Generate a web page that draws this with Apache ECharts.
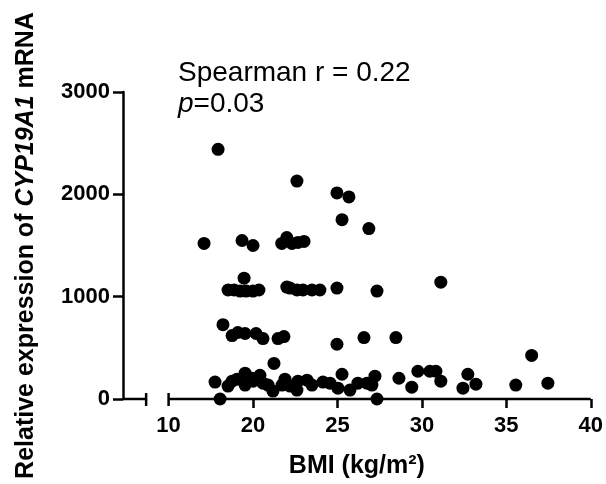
<!DOCTYPE html>
<html>
<head>
<meta charset="utf-8">
<script src="https://cdn.jsdelivr.net/npm/echarts@6/dist/echarts.min.js"></script>
<style>html,body{margin:0;padding:0;background:#fff}#c{width:606px;height:484px}</style>
</head>
<body>
<div id="c"></div>
<script>
// BMI (x) values
const bmi = [
  17.93, 22.60, 24.97, 25.68, 25.27, 26.86,
  17.10, 19.35, 20.00, 21.70, 22.00, 22.30, 22.66, 23.02,
  19.47, 18.52, 18.88, 19.23, 19.59, 20.00, 20.35, 22.00, 22.19, 22.60, 22.96, 23.49, 23.96, 24.97, 27.34, 31.12,
  18.22, 18.76, 19.10, 19.53, 20.18, 20.59, 21.48, 21.83, 24.97, 26.57, 28.46, 36.50,
  17.75, 18.05, 18.52, 18.76, 19.05, 19.53, 19.53, 19.94, 20.41, 20.59, 20.00, 20.89, 21.24, 21.18, 21.72, 21.89,
  22.19, 22.60, 22.66, 23.20, 23.49, 24.14, 24.56, 25.03, 25.27, 25.74, 26.21, 26.75, 27.04, 27.22, 27.34,
  28.64, 29.40, 29.76, 30.47, 30.83, 31.12, 32.43, 32.72, 33.20, 35.56, 37.46
];
// Relative expression of CYP19A1 mRNA (y) values
const expression = [
  2440, 2130, 2014, 1975, 1752, 1665,
  1520, 1549, 1500, 1520, 1578, 1520, 1530, 1540,
  1181, 1065, 1065, 1055, 1055, 1055, 1065, 1094, 1084, 1065, 1065, 1065, 1065, 1084, 1055, 1142,
  726, 620, 650, 640, 640, 590, 590, 610, 535, 600, 600, 426,
  165, 0, 126, 174, 194, 252, 136, 203, 232, 155, 174, 136, 348, 77, 136, 194,
  126, 87, 174, 184, 136, 165, 155, 106, 242, 87, 155, 155, 136, 223, 0,
  203, 116, 271, 271, 271, 174, 106, 242, 145, 136, 155
];
// x-axis tick positions and the labels printed at them
const xTickValues = [15, 20, 25, 30, 35, 40];
const xTickLabels = ['10', '20', '25', '30', '35', '40'];
// axis pieces (in data units): left stub and main part, separated by a break
const xAxisPieces = [[12.3, 13.67], [15, 40]];

const points = bmi.map((b, i) => [b, expression[i]]);
const FONT = 'Liberation Sans, Arial, Helvetica, sans-serif';
const chart = echarts.init(document.getElementById('c'), null, {renderer: 'canvas'});
const labelOf = {};
xTickValues.forEach((v, i) => { labelOf[v] = xTickLabels[i]; });

chart.setOption({
  animation: false,
  backgroundColor: '#fff',
  grid: {left: 123, right: 15, top: 92, bottom: 83},
  xAxis: {
    type: 'value', min: 12.3, max: 40,
    splitLine: {show: false},
    axisLine: {show: false},
    axisTick: {show: true, customValues: xTickValues.slice(1), length: 9, lineStyle: {color: '#000', width: 2.5}},
    axisLabel: {customValues: xTickValues, formatter: v => labelOf[v] ?? '', margin: 16,
      color: '#000', fontFamily: FONT, fontWeight: 'bold', fontSize: 22},
    name: 'BMI (kg/m²)', nameLocation: 'middle', nameGap: 55,
    nameTextStyle: {color: '#000', fontFamily: FONT, fontWeight: 'bold', fontSize: 25}
  },
  yAxis: {
    type: 'value', min: 0, max: 3000, interval: 1000,
    splitLine: {show: false},
    axisLine: {show: true, lineStyle: {color: '#000', width: 2.5}},
    axisTick: {show: true, length: 10, lineStyle: {color: '#000', width: 2.5}},
    axisLabel: {margin: 13, formatter: v => String(v), color: '#000', fontFamily: FONT, fontWeight: 'bold', fontSize: 22},
    name: '{b|Relative expression of }{i|CYP19A1}{b| mRNA}',
    nameLocation: 'middle', nameGap: 84, nameRotate: 90,
    nameTextStyle: {
      rich: {
        b: {color: '#000', fontFamily: FONT, fontWeight: 'bold', fontSize: 25},
        i: {color: '#000', fontFamily: FONT, fontWeight: 'bold', fontStyle: 'italic', fontSize: 25}
      }
    }
  },
  graphic: [
    {type: 'text', left: 178, top: 59, silent: true,
     style: {text: 'Spearman r = 0.22', fill: '#000', font: '28px ' + FONT}},
    {type: 'text', left: 178, top: 90, silent: true,
     style: {text: '{i|p}{n|=0.03}', fill: '#000',
       rich: {i: {fontFamily: FONT, fontSize: 28, fontStyle: 'italic', fill: '#000'},
              n: {fontFamily: FONT, fontSize: 28, fill: '#000'}}}}
  ],
  series: [
    {
      type: 'custom', silent: true, z: 1, clip: false,
      data: xAxisPieces,
      renderItem: (params, api) => {
        const a = api.coord([api.value(0), 0]);
        const b = api.coord([api.value(1), 0]);
        const st = {stroke: '#000', lineWidth: 2.5};
        const mx = params.dataIndex === 0 ? b[0] : a[0];
        return {type: 'group', children: [
          {type: 'line', shape: {x1: a[0], y1: a[1], x2: b[0], y2: b[1]}, style: st},
          {type: 'line', shape: {x1: mx, y1: a[1] - 6, x2: mx, y2: a[1] + 7}, style: st}
        ]};
      }
    },
    {
      type: 'scatter', z: 3, data: points, symbol: 'circle', symbolSize: 13,
      itemStyle: {color: '#000', opacity: 1}
    }
  ]
});
</script>
</body>
</html>
